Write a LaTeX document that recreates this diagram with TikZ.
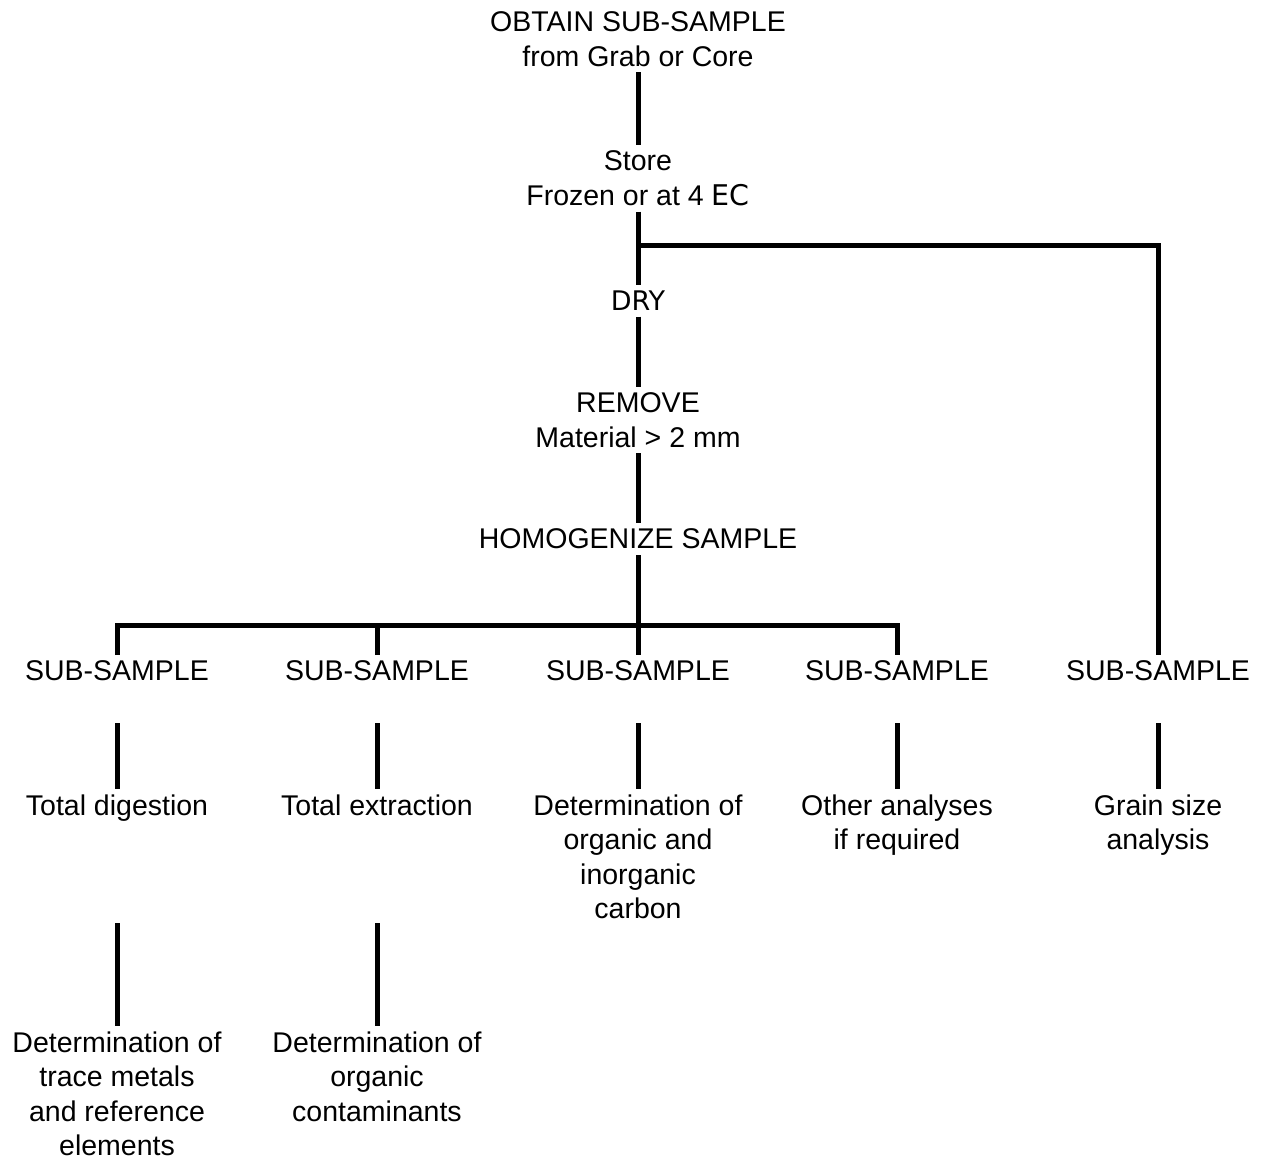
\documentclass[tikz,border=0pt]{standalone}
\usepackage{fontspec}
\setmainfont{Liberation Sans}
\newfontfamily\dejavu{DejaVu Sans}
\usepackage{tikz}

\begin{document}
\begin{tikzpicture}[x=1pt, y=-1pt, line width=5pt,
    lbl/.style={inner sep=0pt, outer sep=6pt, anchor=north, align=center,
                font=\fontsize{28.5}{34.3}\selectfont}]
\useasboundingbox (0,0) rectangle (1263,1159);

\node[lbl] (obtain) at (638, 6) {OBTAIN SUB-SAMPLE\\from Grab or Core};
\node[lbl] (store) at (638, 145) {Store\\Frozen or at 4 {\dejavu EC}};
\node[lbl, font=\dejavu\fontsize{27}{34.5}\selectfont] (dry) at (638, 285) {DRY};
\node[lbl] (remove) at (638, 387) {REMOVE\\Material > 2 mm};
\node[lbl] (homog) at (638, 523) {HOMOGENIZE SAMPLE};

\node[lbl] (sub1) at (117, 655) {SUB-SAMPLE};
\node[lbl] (sub2) at (377, 655) {SUB-SAMPLE};
\node[lbl] (sub3) at (638, 655) {SUB-SAMPLE};
\node[lbl] (sub4) at (897, 655) {SUB-SAMPLE};
\node[lbl] (sub5) at (1158, 655) {SUB-SAMPLE};

\node[lbl] (an1) at (117, 789) {Total digestion};
\node[lbl] (an2) at (377, 789) {Total extraction};
\node[lbl] (an3) at (638, 789) {Determination of\\organic and\\inorganic\\carbon};
\node[lbl] (an4) at (897, 789) {Other analyses\\if required};
\node[lbl] (an5) at (1158, 789) {Grain size\\analysis};

\node[lbl, outer sep=0pt] (det1) at (117, 1032) {Determination of\\trace metals\\and reference\\elements};
\node[lbl, outer sep=0pt] (det2) at (377, 1032) {Determination of\\organic\\contaminants};

\coordinate (split) at (638, 245);
\coordinate (bar) at (638, 625);

% main line
\draw (obtain.south) -- (store.north);
\draw (store.south) -- (dry.north);
\draw (dry.south) -- (remove.north);
\draw (remove.south) -- (homog.north);
\draw (homog.south) -- (sub3.north);

% branches
\draw (split) -| (sub5.north);
\draw (sub1.north) |- (bar) -| (sub4.north);
\draw (sub2.north) -- (sub2.north |- bar);

\foreach \i in {1,...,5}
  \draw ([yshift=-36pt]sub\i.south) -- (an\i.north);

\draw ([yshift=-134pt]an1.north) -- ([yshift=6pt]det1.north);
\draw ([yshift=-134pt]an2.north) -- ([yshift=6pt]det2.north);
\end{tikzpicture}
\end{document}
